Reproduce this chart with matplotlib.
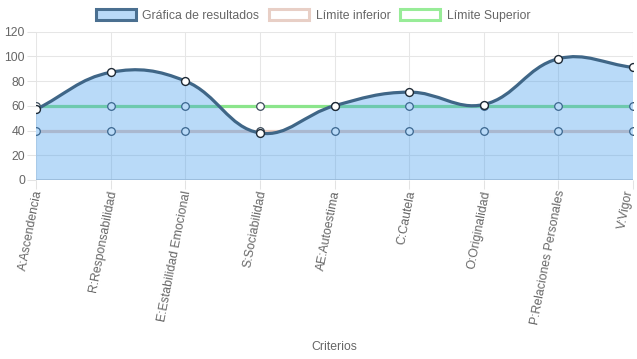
import numpy as np
import matplotlib
matplotlib.use("Agg")
import matplotlib.pyplot as plt
from matplotlib.path import Path
from matplotlib.patches import PathPatch, Patch
from matplotlib.transforms import ScaledTranslation

categories = ["A:Ascendencia", "R:Responsabilidad", "E:Estabilidad Emocional",
              "S:Sociabilidad", "AE:Autoestima", "C:Cautela", "O:Originalidad",
              "P:Relaciones Personales", "V:Vigor"]
resultados = [57, 87, 80, 38, 60, 71, 61, 98, 91]
limite_inferior = [40, 40, 40, 40, 40, 40, 40, 40, 40]
limite_superior = [60, 60, 60, 60, 60, 60, 60, 60, 60]
y_ticks = [0, 20, 40, 60, 80, 100, 120]
series_names = ["Gráfica de resultados", "Límite inferior", "Límite Superior"]

plt.rcParams['font.family'] = ['Liberation Sans', 'DejaVu Sans']
FS = 8.8
TXT = '#666666'

W, H = 637, 359
fig = plt.figure(figsize=(W / 100, H / 100), dpi=100)
ax = fig.add_axes([36 / W, 1 - 180 / H, (633 - 36) / W, (180 - 31.5) / H])
n = len(categories)
xs = np.arange(n)
ax.set_xlim(0, n - 1)
ax.set_ylim(0, 120)

for s in ax.spines.values():
    s.set_visible(False)
ax.set_yticks(y_ticks)
ax.set_yticklabels([str(v) for v in y_ticks], fontsize=FS, color=TXT)
ax.set_xticks(xs)
ax.set_xticklabels(categories, fontsize=FS, color=TXT, rotation=79,
                   ha='right', va='center', rotation_mode='anchor')
ax.tick_params(axis='both', length=6.5, width=0.75, color='#e3e3e3')
ax.tick_params(axis='y', pad=1.5)
ax.tick_params(axis='x', pad=1.0)
labs = ax.get_xticklabels()
for i, lab in enumerate(labs):
    dx = 2.5 if i < len(labs) - 1 else -3.5
    lab.set_transform(lab.get_transform() + ScaledTranslation(dx / 100, 0, fig.dpi_scale_trans))
ax.grid(True, color='#e6e6e6', linewidth=0.75)
ax.set_axisbelow(True)
ax.axhline(0, color='#cccccc', linewidth=1.2, zorder=1.5)
ax.set_xlabel("Criterios", fontsize=FS, color=TXT)
ax.xaxis.set_label_coords(0.5, -(347 - 180) / (180 - 31.5), transform=ax.transAxes)
ax.xaxis.label.set_va('center')

# Limit lines (drawn under the translucent fill)
pink = '#e8cbbf'
green = '#8be58b'
ax.plot(xs, limite_inferior, color=pink, lw=2.3, zorder=2, solid_capstyle='butt')
ax.plot(xs, limite_superior, color=green, lw=2.3, zorder=2, solid_capstyle='butt')
ax.scatter(xs, limite_inferior, s=30, facecolor='white', edgecolor='#3a4a5a', linewidth=0.9, zorder=2.5)
ax.scatter(xs, limite_superior, s=30, facecolor='white', edgecolor='#3a4a5a', linewidth=0.9, zorder=2.5)

# Chart.js-style bezier (tension 0.4) computed in pixel space
fig.canvas.draw()
pts = ax.transData.transform(np.column_stack([xs, resultados]))
t = 0.4
cps = []
for i in range(n):
    prev = pts[i - 1] if i > 0 else pts[i]
    cur = pts[i]
    nxt = pts[i + 1] if i < n - 1 else pts[i]
    d01 = np.hypot(*(cur - prev))
    d12 = np.hypot(*(nxt - cur))
    tot = d01 + d12
    s01 = d01 / tot if tot else 0
    s12 = d12 / tot if tot else 0
    fa, fb = t * s01, t * s12
    cps.append((cur - fa * (nxt - prev), cur + fb * (nxt - prev)))
verts = [pts[0]]
codes = [Path.MOVETO]
for i in range(n - 1):
    verts += [cps[i][1], cps[i + 1][0], pts[i + 1]]
    codes += [Path.CURVE4] * 3
inv = ax.transData.inverted()
verts_d = inv.transform(np.array(verts))
line_path = Path(verts_d, codes)
fill_verts = list(verts_d) + [(n - 1, 0), (0, 0), (0, resultados[0])]
fill_codes = codes + [Path.LINETO, Path.LINETO, Path.CLOSEPOLY]
fill_path = Path(fill_verts, fill_codes)

fill_rgba = (0.24, 0.60, 0.93, 0.36)
ax.add_patch(PathPatch(fill_path, facecolor=fill_rgba, edgecolor='none', zorder=3))
line_col = '#3f6687'
ax.add_patch(PathPatch(line_path, facecolor='none', edgecolor=line_col, lw=2.3, zorder=4))
ax.scatter(xs, resultados, s=32, facecolor='white', edgecolor='#1e2a36', linewidth=1.0, zorder=5)

handles = [
    Patch(facecolor='#b9d9f7', edgecolor='#4a6f90', linewidth=2.2),
    Patch(facecolor='white', edgecolor='#e8cfc6', linewidth=2.2),
    Patch(facecolor='white', edgecolor='#98ec98', linewidth=2.2),
]
leg = fig.legend(handles, series_names, loc='center', bbox_to_anchor=(313 / W, 1 - 15.5 / H),
                 ncol=3, frameon=False, fontsize=FS, handlelength=3.3, handleheight=0.95,
                 handletextpad=0.5, columnspacing=0.8, borderpad=0)
for tx in leg.get_texts():
    tx.set_color(TXT)

fig.savefig("out.png", dpi=100)
